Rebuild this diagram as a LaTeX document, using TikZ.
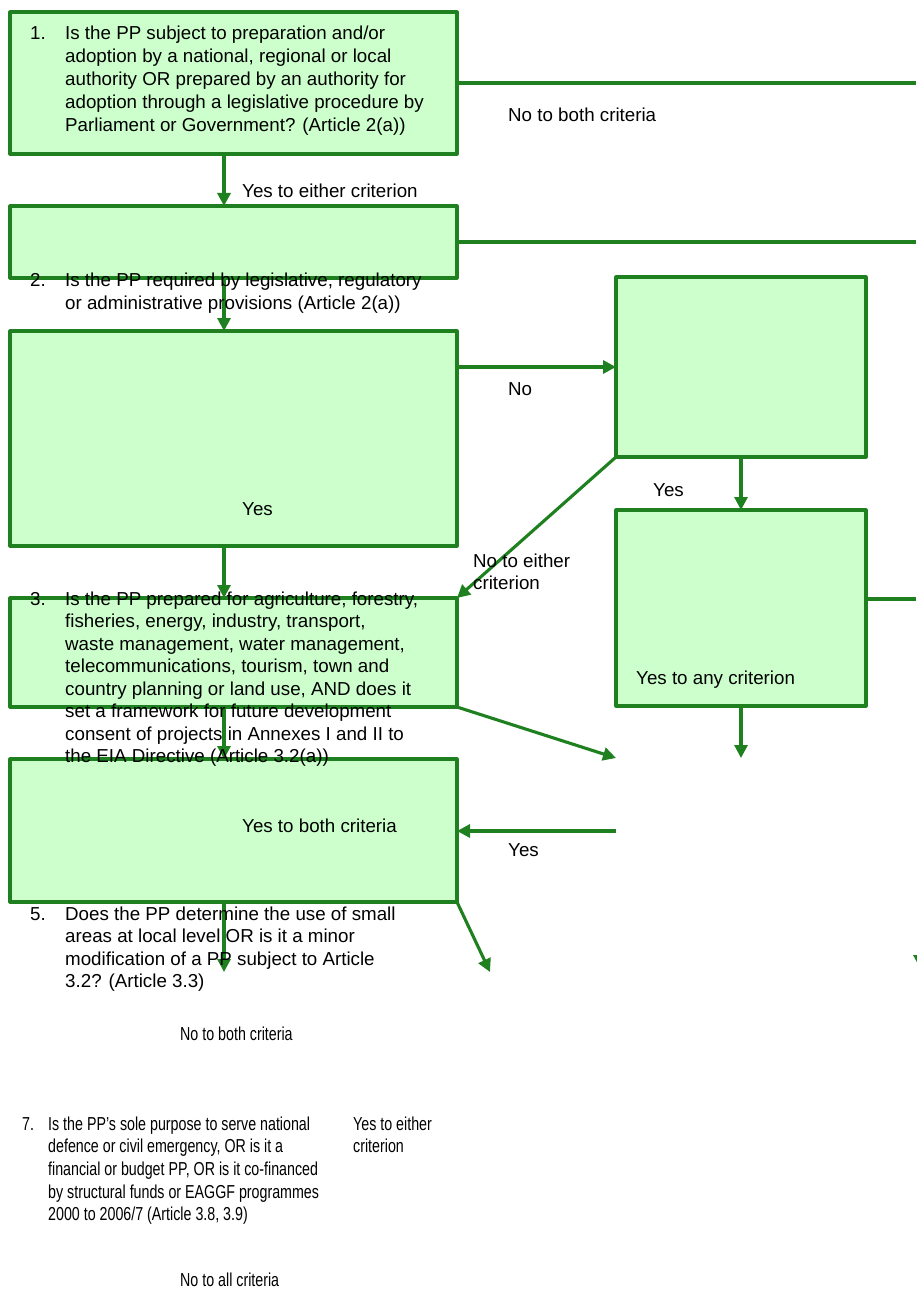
\documentclass[tikz,border=0pt]{standalone}
\usepackage{fontspec}
\setmainfont{Liberation Sans}
\newfontfamily\narrowfont[FakeStretch=0.76]{Liberation Sans}
\usetikzlibrary{arrows.meta}
\definecolor{boxgreen}{RGB}{204,255,204}
\definecolor{linegreen}{RGB}{30,128,30}
\newcommand\para[2]{\vtop{\baselineskip=#1pt\lineskiplimit=-100pt\lineskip=0pt #2}}
\newcommand\txline[1]{\hbox{#1}}
\begin{document}
\begin{tikzpicture}[x=1pt,y=-1pt,
  box/.style={draw=linegreen, fill=boxgreen, line width=3.1pt, anchor=north west, inner sep=0pt, outer sep=0pt, line join=round},
  ln/.style={draw=linegreen, line width=3.1pt},
  arr/.style={draw=linegreen, line width=3.1pt, -{Triangle[length=13pt,width=13pt]}},
  txt/.style={anchor=base west, inner sep=0pt, font=\fontsize{18.75pt}{23pt}\selectfont},
  ntxt/.style={anchor=base west, inner sep=0pt, font=\narrowfont\fontsize{18.75pt}{23pt}\selectfont}]
\useasboundingbox[fill=white] (0,0) rectangle (916,1289);

% boxes
\node[box, minimum width=447pt, minimum height=142pt] (b1) at (10,12) {};
\node[box, minimum width=447pt, minimum height=72pt] (b2) at (10,206) {};
\node[box, minimum width=447pt, minimum height=215pt] (b3) at (10,331) {};
\node[box, minimum width=250pt, minimum height=180pt] (bA) at (616,277) {};
\node[box, minimum width=250pt, minimum height=196pt] (bB) at (616,510) {};
\node[box, minimum width=447pt, minimum height=109pt] (bC) at (10,598) {};
\node[box, minimum width=447pt, minimum height=143pt] (bD) at (10,759) {};

% helper coordinates
\coordinate (xa) at (224,0);
\coordinate (xr) at (916,0);
\coordinate (yno) at (0,367);
\coordinate (yB) at (0,599);
\coordinate (eB) at (741,758);
\coordinate (eC) at (616,758);
\coordinate (sY) at (616,831);
\coordinate (eD) at (224,972);
\coordinate (eD2) at (490,972);
\coordinate (rs) at (920,935);
\coordinate (re) at (920,968);

% connectors
\draw[arr] (b1.south -| xa) -- (b2.north -| xa);
\draw[ln] (b1.east) -- (b1.east -| xr);
\draw[ln] (b2.east) -- (b2.east -| xr);
\draw[arr] (b2.south -| xa) -- (b3.north -| xa);
\draw[arr] (b3.east |- yno) -- (bA.west |- yno);
\draw[arr] (bA.south) -- (bB.north);
\draw[arr] (bA.south west) -- (bC.north east);
\draw[ln] (bB.east |- yB) -- (xr |- yB);
\draw[arr] (bB.south) -- (eB);
\draw[arr] (b3.south -| xa) -- (bC.north -| xa);
\draw[arr] (bC.south east) -- (eC);
\draw[arr] (bC.south -| xa) -- (bD.north -| xa);
\draw[arr] (sY) -- (bD.east |- sY);
\draw[arr] (bD.south -| xa) -- (eD);
\draw[arr] (bD.south east) -- (eD2);
\draw[arr] (rs) -- (re);

% texts
\node[txt] (n1) at (30,40) {1.};
\node[txt] (q1) at (65,40) {\para{23}{\txline{Is the PP subject to preparation and/or}\txline{adoption by a national, regional or local}\txline{authority OR prepared by an authority for}\txline{adoption through a legislative procedure by}\txline{Parliament or Government? (Article 2(a))}}};
\node[txt] (l1) at (508,122) {No to both criteria};
\node[txt] (l2) at (242,198) {Yes to either criterion};
\node[txt] (n2) at (30,286) {2.};
\node[txt] (q2) at (65,286) {\para{23}{\txline{Is the PP required by legislative, regulatory}\txline{or administrative provisions (Article 2(a))}}};
\node[txt] (l3) at (242,515) {Yes};
\node[txt] (l4) at (508,395) {No};
\node[txt] (l5) at (653,496) {Yes};
\node[txt] (l6) at (473,567) {\para{22}{\txline{No to either}\txline{criterion}}};
\node[txt] (l7) at (636,684) {Yes to any criterion};
\node[txt] (n3) at (30,605) {3.};
\node[txt] (q3) at (65,605) {\para{22.5}{\txline{Is the PP prepared for agriculture, forestry,}\txline{fisheries, energy, industry, transport,}\txline{waste management, water management,}\txline{telecommunications, tourism, town and}\txline{country planning or land use, AND does it}\txline{set a framework for future development}\txline{consent of projects in Annexes I and II to}\txline{the EIA Directive (Article 3.2(a))}}};
\node[txt] (l8) at (242,832) {Yes to both criteria};
\node[txt] (l9) at (508,856) {Yes};
\node[txt] (n5) at (30,920) {5.};
\node[txt] (q5) at (65,920) {\para{22.5}{\txline{Does the PP determine the use of small}\txline{areas at local level OR is it a minor}\txline{modification of a PP subject to Article}\txline{3.2? (Article 3.3)}}};
\node[ntxt] (l10) at (180,1040) {No to both criteria};
\node[ntxt] (n7) at (22,1130) {7.};
\node[ntxt] (q7) at (48,1130) {\para{22.7}{\txline{Is the PP’s sole purpose to serve national}\txline{defence or civil emergency, OR is it a}\txline{financial or budget PP, OR is it co-financed}\txline{by structural funds or EAGGF programmes}\txline{2000 to 2006/7 (Article 3.8, 3.9)}}};
\node[ntxt] (l11) at (353,1130) {\para{22.5}{\txline{Yes to either}\txline{criterion}}};
\node[ntxt] (l12) at (180,1286) {No to all criteria};
\end{tikzpicture}
\end{document}
